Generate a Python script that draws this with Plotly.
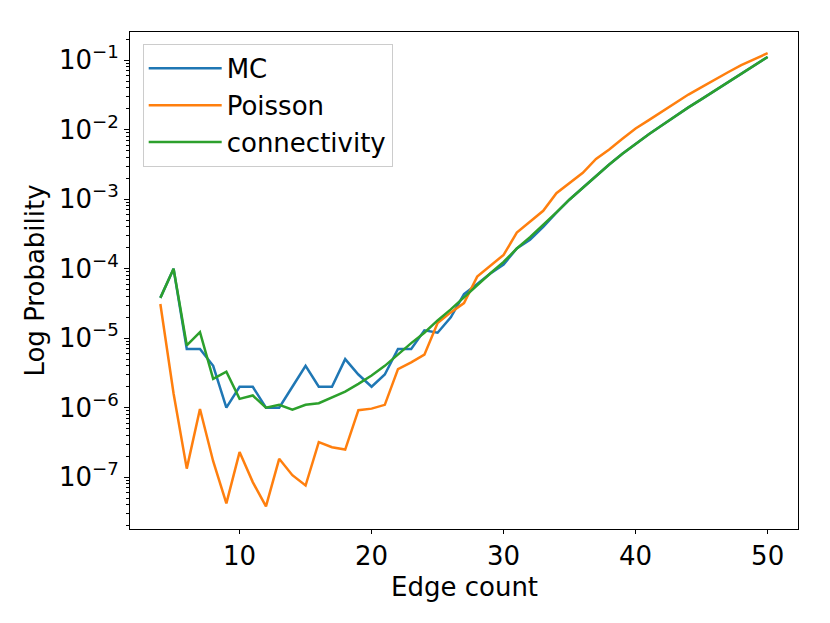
import plotly.graph_objects as go

# edge counts 4..50
edges = list(range(4, 51))

mc = [3.8e-5, 1.0e-4, 7e-6, 7e-6, 4e-6, 1e-6, 2e-6, 2e-6, 1e-6, 1e-6,
      2e-6, 4e-6, 2e-6, 2e-6, 5e-6, 3e-6, 2e-6, 3e-6, 7e-6, 7e-6,
      1.3e-5, 1.2e-5, 2.0e-5, 4.3e-5, 6.0e-5, 8.5e-5, 1.15e-4, 1.95e-4, 2.6e-4, 4.0e-4,
      6.4e-4, 9.9e-4, 1.46e-3, 2.15e-3, 3.15e-3, 4.5e-3, 6.3e-3, 8.6e-3, 1.16e-2, 1.57e-2,
      2.09e-2, 2.75e-2, 3.63e-2, 4.79e-2, 6.31e-2, 8.32e-2, 0.111]

poisson = [3.1e-5, 1.6e-6, 1.33e-7, 9.6e-7, 1.7e-7, 4.2e-8, 2.3e-7, 8.5e-8, 3.8e-8, 1.84e-7,
           1.07e-7, 7.6e-8, 3.2e-7, 2.7e-7, 2.5e-7, 9.2e-7, 9.7e-7, 1.1e-6, 3.6e-6, 4.5e-6,
           5.8e-6, 1.65e-5, 2.35e-5, 3.2e-5, 7.7e-5, 1.1e-4, 1.58e-4, 3.3e-4, 4.7e-4, 6.8e-4,
           1.22e-3, 1.72e-3, 2.4e-3, 3.8e-3, 5.2e-3, 7.4e-3, 1.04e-2, 1.37e-2, 1.83e-2, 2.45e-2,
           3.2e-2, 4.1e-2, 5.3e-2, 6.7e-2, 8.5e-2, 0.104, 0.126]

connectivity = [3.8e-5, 1.0e-4, 7.9e-6, 1.22e-5, 2.6e-6, 3.3e-6, 1.34e-6, 1.5e-6, 1.0e-6, 1.1e-6,
                9.4e-7, 1.1e-6, 1.16e-6, 1.42e-6, 1.7e-6, 2.2e-6, 2.9e-6, 4.0e-6, 5.9e-6, 8.5e-6,
                1.2e-5, 1.8e-5, 2.6e-5, 3.9e-5, 5.8e-5, 8.6e-5, 1.25e-4, 1.95e-4, 2.85e-4, 4.25e-4,
                6.45e-4, 9.9e-4, 1.46e-3, 2.15e-3, 3.15e-3, 4.5e-3, 6.3e-3, 8.6e-3, 1.16e-2, 1.57e-2,
                2.09e-2, 2.75e-2, 3.63e-2, 4.79e-2, 6.31e-2, 8.32e-2, 0.111]

x_ticks = [10, 20, 30, 40, 50]
y_exps = [-7, -6, -5, -4, -3, -2, -1]

font = dict(family="DejaVu Sans", size=26, color="black")

fig = go.Figure()
fig.add_trace(go.Scatter(x=edges, y=mc, mode='lines', name='MC',
                         line=dict(color='#1f77b4', width=2.5)))
fig.add_trace(go.Scatter(x=edges, y=poisson, mode='lines', name='Poisson',
                         line=dict(color='#ff7f0e', width=2.5)))
fig.add_trace(go.Scatter(x=edges, y=connectivity, mode='lines', name='connectivity',
                         line=dict(color='#2ca02c', width=2.5)))

minor_vals = [m * 10.0 ** e for e in range(-8, 0) for m in range(2, 10)]

fig.update_xaxes(range=[1.7, 52.3], tickvals=x_ticks, ticks='outside', ticklen=4,
                 tickcolor='black', showline=True, linecolor='black', linewidth=1,
                 mirror=True, showgrid=False, zeroline=False, tickfont=font)
fig.update_yaxes(type='log', range=[-7.745, -0.595],
                 tickvals=[10.0 ** e for e in y_exps],
                 ticktext=['10<sup>\u2212%d</sup>' % -e for e in y_exps],
                 ticks='outside', ticklen=5, tickcolor='black',
                 minor=dict(tickvals=minor_vals, ticks='outside', ticklen=3, tickcolor='black'),
                 showline=True, linecolor='black', linewidth=1, mirror=True,
                 showgrid=False, zeroline=False,
                 title=dict(text='Log Probability', font=font, standoff=6), tickfont=font)

# x title as annotation so it sits closer to the tick labels
fig.add_annotation(text='Edge count', xref='paper', yref='paper', x=0.5, y=-0.116,
                   xanchor='center', yanchor='middle', showarrow=False, font=font)

# page body adds an 8px offset, so the figure is a bit smaller than the window
fig.update_layout(width=822, height=615, plot_bgcolor='white', paper_bgcolor='white',
                  margin=dict(l=122, r=32, t=24, b=94), font=font,
                  legend=dict(x=0.019, y=0.976, xanchor='left', yanchor='top',
                              bgcolor='white', bordercolor='#cccccc', borderwidth=1,
                              itemwidth=73, font=font))
fig.write_html("out.html")
